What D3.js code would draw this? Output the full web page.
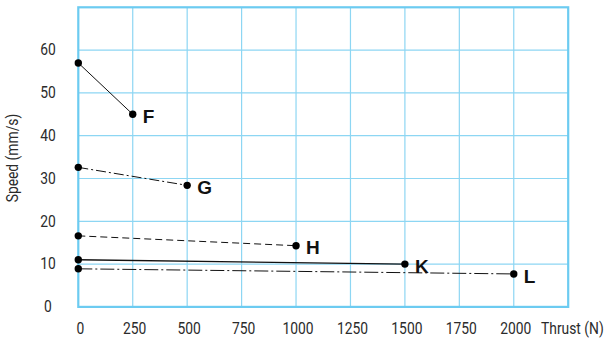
<!DOCTYPE html>
<html><head><meta charset="utf-8">
<script src="https://cdn.jsdelivr.net/npm/d3@7"></script>
<style>
html,body{margin:0;padding:0;background:#fff;}
svg{display:block;}
.tick-lbl{font-family:"Roboto",sans-serif;font-size:16.5px;fill:#2b2b2b;}
.pt-lbl{font-family:"Liberation Sans","Arial",sans-serif;font-weight:bold;font-size:19px;fill:#111;}
</style></head>
<body>
<svg id="chart" width="604" height="343"></svg>
<script>
// ---- data ----
const seriesNames = ["F", "G", "H", "K", "L"];
const thrustStart = [0, 0, 0, 0, 0];
const thrustEnd   = [250, 500, 1000, 1500, 2000];
const speedStart  = [57, 32.6, 16.6, 11.0, 8.9];
const speedEnd    = [45, 28.4, 14.3, 10.0, 7.7];
const xTicks = [0, 250, 500, 750, 1000, 1250, 1500, 1750, 2000];
const yTicks = [0, 10, 20, 30, 40, 50, 60];
const xTitle = "Thrust (N)";
const yTitle = "Speed (mm/s)";

// styles per series
const dashes = ["none", "10,3,2,3", "7,4", "none", "14,3,2,3"];
const widths = [1, 1, 1, 1.4, 1];
const SX = 0.84; // horizontal condensing of the label font

const svg = d3.select("#chart");
const x = d3.scaleLinear().domain([0, 2250]).range([78.3, 568.2]);
const y = d3.scaleLinear().domain([0, 70]).range([306.9, 7.3]);

const gridColor = "#8dd6f3";
const borderColor = "#6ccbf1";

// grid
const g = svg.append("g");
g.selectAll("line.vg").data(d3.range(250, 2250, 250)).join("line")
  .attr("x1", d => x(d)).attr("x2", d => x(d))
  .attr("y1", y(0)).attr("y2", y(70))
  .attr("stroke", gridColor).attr("stroke-width", 1.2);
g.selectAll("line.hg").data(d3.range(10, 70, 10)).join("line")
  .attr("y1", d => y(d)).attr("y2", d => y(d))
  .attr("x1", x(0)).attr("x2", x(2250))
  .attr("stroke", gridColor).attr("stroke-width", 1.2);
g.append("rect")
  .attr("x", x(0)).attr("y", y(70))
  .attr("width", x(2250) - x(0)).attr("height", y(0) - y(70))
  .attr("fill", "none").attr("stroke", borderColor).attr("stroke-width", 2.2);

// axes (labels only)
const xAxis = d3.axisBottom(x).tickValues(xTicks).tickSize(0).tickPadding(0).tickFormat(d3.format("d"));
const xa = svg.append("g").attr("transform", "translate(1.5,322)").call(xAxis);
xa.select(".domain").remove();
xa.selectAll("text").attr("class", "tick-lbl").attr("dy", "0.7em").attr("fill", null)
  .attr("transform", `scale(${SX},1)`);

const yAxis = d3.axisLeft(y).tickValues(yTicks).tickSize(0).tickPadding(0).tickFormat(d3.format("d"));
const ya = svg.append("g").attr("transform", "translate(48,-1)").call(yAxis);
ya.select(".domain").remove();
ya.selectAll("text").attr("class", "tick-lbl").attr("text-anchor", "middle").attr("dy", "0.35em").attr("fill", null)
  .attr("transform", `scale(${SX},1)`);

svg.append("text").attr("class", "tick-lbl")
  .attr("transform", `translate(541,328) scale(${SX},1)`)
  .attr("dy", "0.35em").text(xTitle);
svg.append("text").attr("class", "tick-lbl")
  .attr("transform", `translate(12,158) rotate(-90) scale(${SX},1)`)
  .attr("text-anchor", "middle").attr("dy", "0.35em").text(yTitle);

// series
const data = seriesNames.map((n, i) => ({
  name: n,
  pts: [[thrustStart[i], speedStart[i]], [thrustEnd[i], speedEnd[i]]],
  dash: dashes[i], w: widths[i]
}));
const line = d3.line().x(d => x(d[0])).y(d => y(d[1]));
const sg = svg.append("g");
data.forEach(s => {
  sg.append("path").attr("d", line(s.pts))
    .attr("fill", "none").attr("stroke", "#111")
    .attr("stroke-width", s.w)
    .attr("stroke-dasharray", s.dash === "none" ? null : s.dash);
  sg.selectAll(null).data(s.pts).join("circle")
    .attr("cx", d => x(d[0])).attr("cy", d => y(d[1])).attr("r", 3.7)
    .attr("fill", "#000");
  const e = s.pts[1];
  sg.append("text").attr("class", "pt-lbl")
    .attr("x", x(e[0]) + 10).attr("y", y(e[1]) + 2)
    .attr("dy", "0.35em").text(s.name);
});
</script>
</body></html>
